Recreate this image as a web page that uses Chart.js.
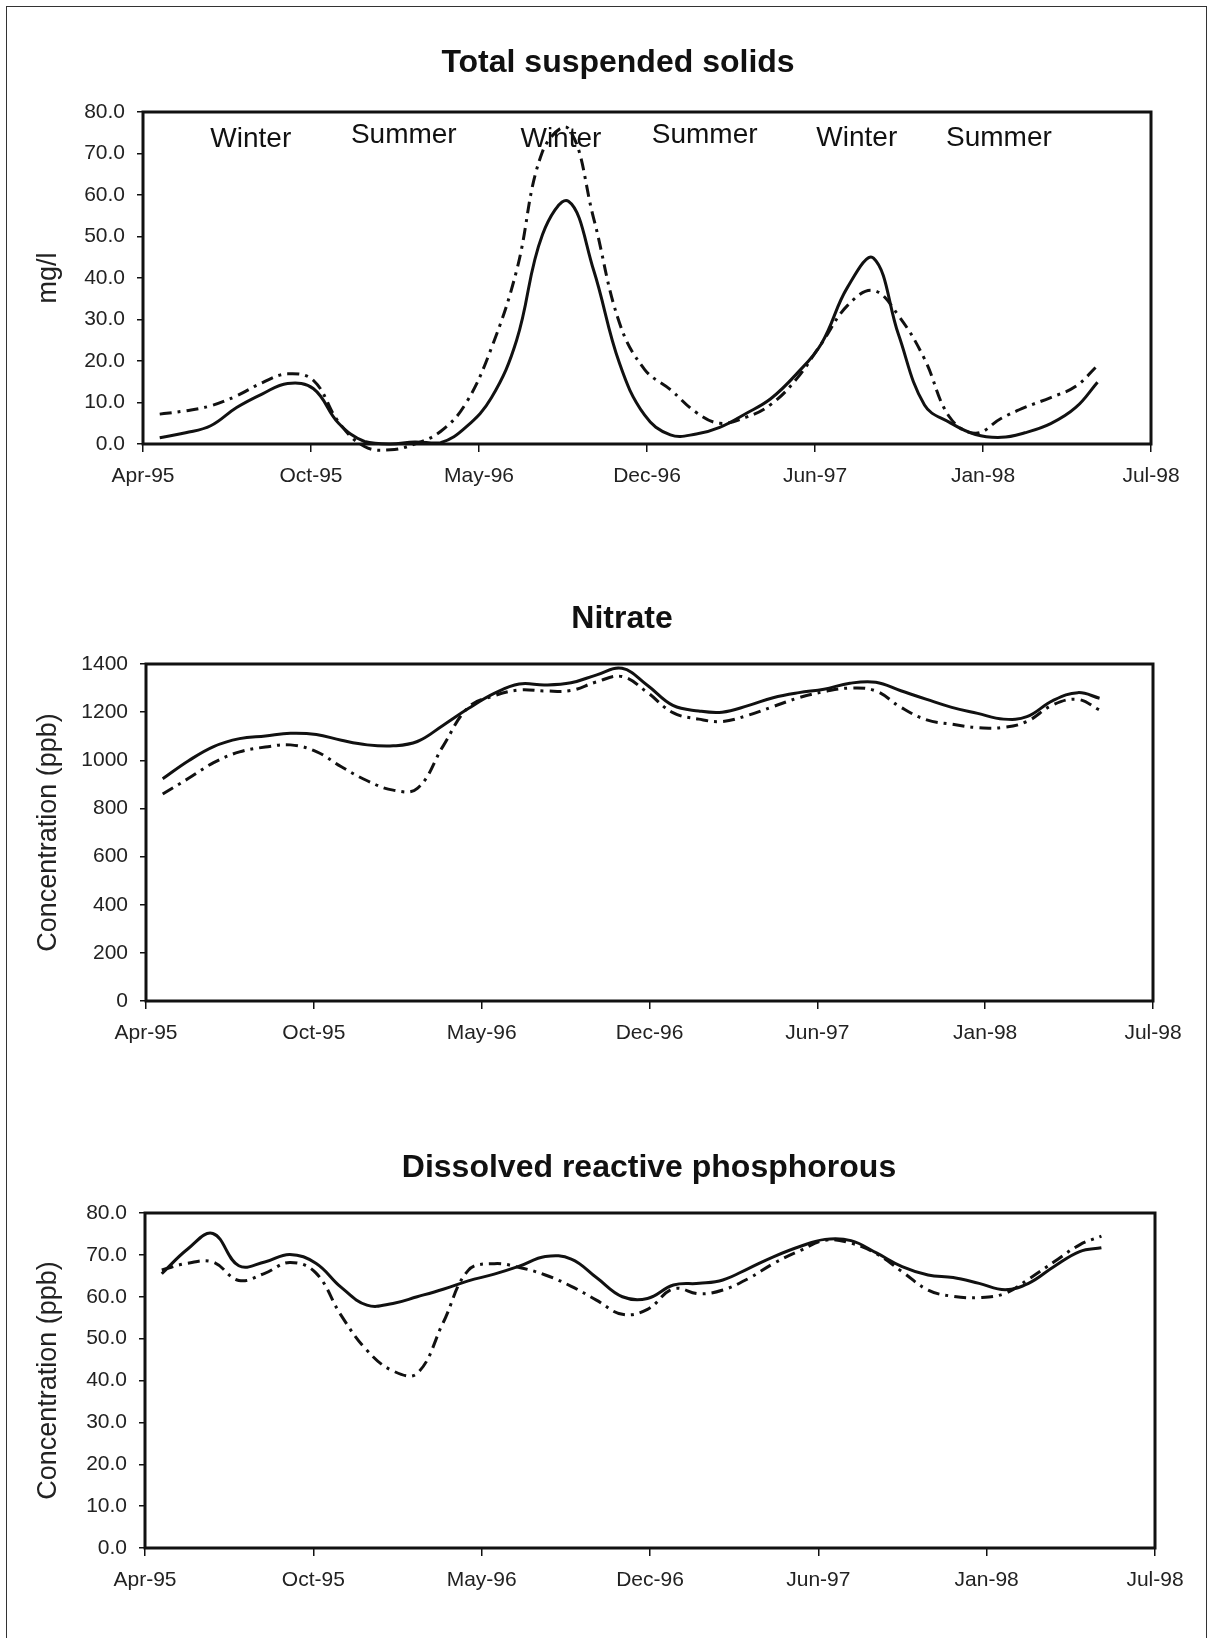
<!DOCTYPE html>
<html>
<head>
<meta charset="utf-8">
<script src="https://cdn.jsdelivr.net/npm/chart.js@4.4.1/dist/chart.umd.min.js"></script>
<style>
    body { margin: 0; background: #fff; }
    #page { position: relative; width: 1211px; height: 1638px; overflow: hidden; background: #fff; }
    #frame { position: absolute; left: 6px; top: 6px; width: 1199px; height: 1660px; border: 1.5px solid #333; }
    canvas { position: absolute; left: 0; }
</style>
</head>
<body>
<div id="page">
    <div id="frame"></div>
    <canvas id="chartTss" width="1211" height="520" style="top:0px"></canvas>
    <canvas id="chartNitrate" width="1211" height="530" style="top:530px"></canvas>
    <canvas id="chartDrp" width="1211" height="568" style="top:1070px"></canvas>
</div>
<script>
// sampling dates (roughly monthly, May-95 .. May-98)
var sampleDates = [
    '1995-05-01', '1995-06-01', '1995-07-01', '1995-08-01', '1995-09-01', '1995-10-01', '1995-11-01', '1995-12-01',
    '1996-01-01', '1996-02-01', '1996-03-01', '1996-04-01', '1996-05-01', '1996-06-01', '1996-07-01', '1996-08-01',
    '1996-09-01', '1996-10-01', '1996-11-01', '1996-12-01',
    '1997-01-01', '1997-02-01', '1997-03-01', '1997-04-01', '1997-05-01', '1997-06-01', '1997-07-01', '1997-08-01',
    '1997-09-01', '1997-10-01', '1997-11-01', '1997-12-01',
    '1998-01-01', '1998-02-01', '1998-03-01', '1998-04-01', '1998-05-01', '1998-05-27'
];

// Total suspended solids (mg/l)
var tssSolid = [1.5, 2.7, 4.4, 8.8, 12.1, 14.6, 13.3, 5.0,
    0.6, 0.0, 0.5, 0.3, 4.0, 11.2, 25.0, 50.5, 58.5, 42.0, 19.5, 7.0,
    2.2, 2.4, 4.0, 7.3, 10.9, 16.9, 24.3, 37.8, 44.8, 26.3, 9.4, 5.2,
    2.3, 1.6, 2.7, 4.9, 8.8, 14.9];
var tssDashed = [7.2, 8.0, 9.2, 11.6, 14.8, 16.9, 15.3, 5.3,
    -0.6, -1.4, 0.0, 3.0, 9.7, 23.2, 41.8, 70.5, 76.0, 54.5, 29.2, 18.0,
    13.1, 7.6, 5.0, 6.4, 9.5, 15.7, 24.3, 33.4, 37.0, 30.9, 20.5, 6.5,
    2.6, 6.2, 8.8, 11.2, 13.9, 18.9];

// Nitrate (ppb)
var nitrateSolid = [923, 998, 1057, 1090, 1101, 1112, 1107, 1083,
    1064, 1060, 1078, 1146, 1215, 1278, 1317, 1313, 1322, 1354, 1382, 1313,
    1228, 1205, 1200, 1227, 1260, 1281, 1295, 1320, 1324, 1289, 1253, 1220,
    1195, 1171, 1181, 1248, 1281, 1258];
var nitrateDashed = [860, 925, 990, 1035, 1055, 1064, 1036, 973,
    915, 876, 883, 1060, 1220, 1268, 1292, 1288, 1290, 1325, 1348, 1283,
    1198, 1171, 1161, 1187, 1223, 1260, 1285, 1300, 1288, 1220, 1168, 1150,
    1136, 1137, 1161, 1230, 1253, 1209];

// Dissolved reactive phosphorous (ppb)
var drpSolid = [65.5, 71.4, 75.1, 67.4, 68.3, 70.1, 68.0, 62.3,
    58.0, 58.4, 60.0, 61.8, 63.8, 65.4, 67.3, 69.6, 69.0, 64.6, 60.0, 59.6,
    62.8, 63.2, 64.0, 66.8, 69.6, 72.0, 73.7, 73.4, 70.4, 67.2, 65.2, 64.6,
    63.2, 61.7, 63.2, 67.3, 70.8, 71.7];
var drpDashed = [66.4, 68.0, 68.3, 63.9, 65.6, 68.2, 65.7, 55.6,
    47.2, 42.3, 41.7, 53.8, 66.3, 67.9, 67.0, 65.2, 62.5, 59.2, 55.8, 57.0,
    61.9, 60.7, 61.6, 64.4, 68.0, 71.0, 73.5, 72.8, 70.2, 66.0, 61.6, 60.1,
    59.8, 60.8, 64.2, 68.4, 72.4, 74.5];

// x axis ticks
var tickDates = ['1995-04-11', '1995-10-29', '1996-05-17', '1996-12-04', '1997-06-23', '1998-01-10', '1998-07-30'];
var tickLabels = ['Apr-95', 'Oct-95', 'May-96', 'Dec-96', 'Jun-97', 'Jan-98', 'Jul-98'];

// season notes on the first panel
var seasonNames = ['Winter', 'Summer', 'Winter', 'Summer', 'Winter', 'Summer'];
var seasonDates = ['1995-08-18', '1996-02-17', '1996-08-23', '1997-02-11', '1997-08-12', '1998-01-29'];
var seasonLevels = [73.5, 74.3, 73.5, 74.4, 73.6, 73.7];

var FONT = 'Arial, "Liberation Sans", sans-serif';

var dayOf = (s) => {
    var p = s.split('-').map(Number);
    return (Date.UTC(p[0], p[1] - 1, p[2]) - Date.UTC(1995, 3, 1)) / 864e5;
};
var sampleDays = sampleDates.map(dayOf);
var tickDays = tickDates.map(dayOf);

// plot frame, panel title and free notes
const panelDecor = {
    id: 'panelDecor',
    afterDraw(chart, args, opts) {
        const { ctx, chartArea: a, scales } = chart;
        ctx.save();
        ctx.strokeStyle = '#111';
        ctx.lineWidth = 3;
        ctx.strokeRect(a.left, a.top, a.right - a.left, a.bottom - a.top);
        ctx.fillStyle = '#111';
        ctx.textAlign = 'center';
        ctx.textBaseline = 'middle';
        ctx.font = 'bold 32px ' + FONT;
        ctx.fillText(opts.title, opts.titleX, opts.titleY);
        if (opts.notes) {
            ctx.font = '28px ' + FONT;
            for (let i = 0; i < opts.notes.length; i++) {
                ctx.fillText(opts.notes[i],
                    scales.x.getPixelForValue(dayOf(opts.noteDates[i])),
                    scales.y.getPixelForValue(opts.noteLevels[i]));
            }
        }
        ctx.restore();
    }
};

function makePanel(id, cfg) {
    const canvas = document.getElementById(id);
    const xAxisHeight = 50;
    const toPoints = (vals) => sampleDays.map((d, i) => ({ x: d, y: vals[i] }));
    return new Chart(canvas, {
        type: 'line',
        plugins: [panelDecor],
        data: {
            datasets: [
                {
                    data: toPoints(cfg.solid),
                    borderColor: '#111',
                    borderWidth: 3,
                    pointRadius: 0,
                    tension: 0.4,
                    clip: 12,
                },
                {
                    data: toPoints(cfg.dashed),
                    borderColor: '#111',
                    borderWidth: 3,
                    borderDash: [12, 6, 3, 6],
                    pointRadius: 0,
                    tension: 0.4,
                    clip: 12,
                },
            ],
        },
        options: {
            responsive: false,
            animation: false,
            layout: {
                padding: {
                    left: 0,
                    right: canvas.width - cfg.area.right,
                    top: cfg.area.top - cfg.offset,
                    bottom: canvas.height - (cfg.area.bottom - cfg.offset) - xAxisHeight,
                },
            },
            scales: {
                x: {
                    type: 'linear',
                    min: tickDays[0],
                    max: tickDays[tickDays.length - 1],
                    afterBuildTicks: (s) => { s.ticks = tickDays.map((v) => ({ value: v })); },
                    afterFit: (s) => { s.height = xAxisHeight; },
                    ticks: {
                        autoSkip: false,
                        maxRotation: 0,
                        padding: 12,
                        color: '#222',
                        font: { family: FONT, size: 21 },
                        callback: (v, i) => tickLabels[i],
                    },
                    grid: { drawOnChartArea: false, tickLength: 8, color: '#111', lineWidth: 1.5 },
                    border: { display: false },
                },
                y: {
                    min: 0,
                    max: cfg.yMax,
                    afterFit: (s) => { s.width = cfg.area.left; },
                    ticks: {
                        stepSize: cfg.yStep,
                        padding: 12,
                        color: '#222',
                        font: { family: FONT, size: 21 },
                        callback: cfg.yFormat,
                    },
                    grid: { drawOnChartArea: false, tickLength: 6, color: '#111', lineWidth: 1.5 },
                    border: { display: false },
                    title: {
                        display: true,
                        text: cfg.yTitle,
                        color: '#222',
                        font: { family: FONT, size: 27, lineHeight: 1.2 },
                        padding: { top: 32, bottom: 0 },
                    },
                },
            },
            plugins: {
                legend: { display: false },
                tooltip: { enabled: false },
                panelDecor: {
                    title: cfg.title,
                    titleX: cfg.titleX,
                    titleY: cfg.titleY - cfg.offset,
                    notes: cfg.notes || null,
                    noteDates: cfg.noteDates || null,
                    noteLevels: cfg.noteLevels || null,
                },
            },
        },
    });
}

makePanel('chartTss', {
    offset: 0,
    area: { left: 143, right: 1151, top: 112, bottom: 444 },
    title: 'Total suspended solids', titleX: 618, titleY: 63,
    yTitle: 'mg/l', yMax: 80, yStep: 10,
    yFormat: (v) => v.toFixed(1),
    solid: tssSolid, dashed: tssDashed,
    notes: seasonNames, noteDates: seasonDates, noteLevels: seasonLevels,
});

makePanel('chartNitrate', {
    offset: 530,
    area: { left: 146, right: 1153, top: 664, bottom: 1001 },
    title: 'Nitrate', titleX: 622, titleY: 619,
    yTitle: 'Concentration (ppb)', yMax: 1400, yStep: 200,
    yFormat: (v) => String(v),
    solid: nitrateSolid, dashed: nitrateDashed,
});

makePanel('chartDrp', {
    offset: 1070,
    area: { left: 145, right: 1155, top: 1213, bottom: 1548 },
    title: 'Dissolved reactive phosphorous', titleX: 649, titleY: 1168,
    yTitle: 'Concentration (ppb)', yMax: 80, yStep: 10,
    yFormat: (v) => v.toFixed(1),
    solid: drpSolid, dashed: drpDashed,
});
</script>
</body>
</html>
